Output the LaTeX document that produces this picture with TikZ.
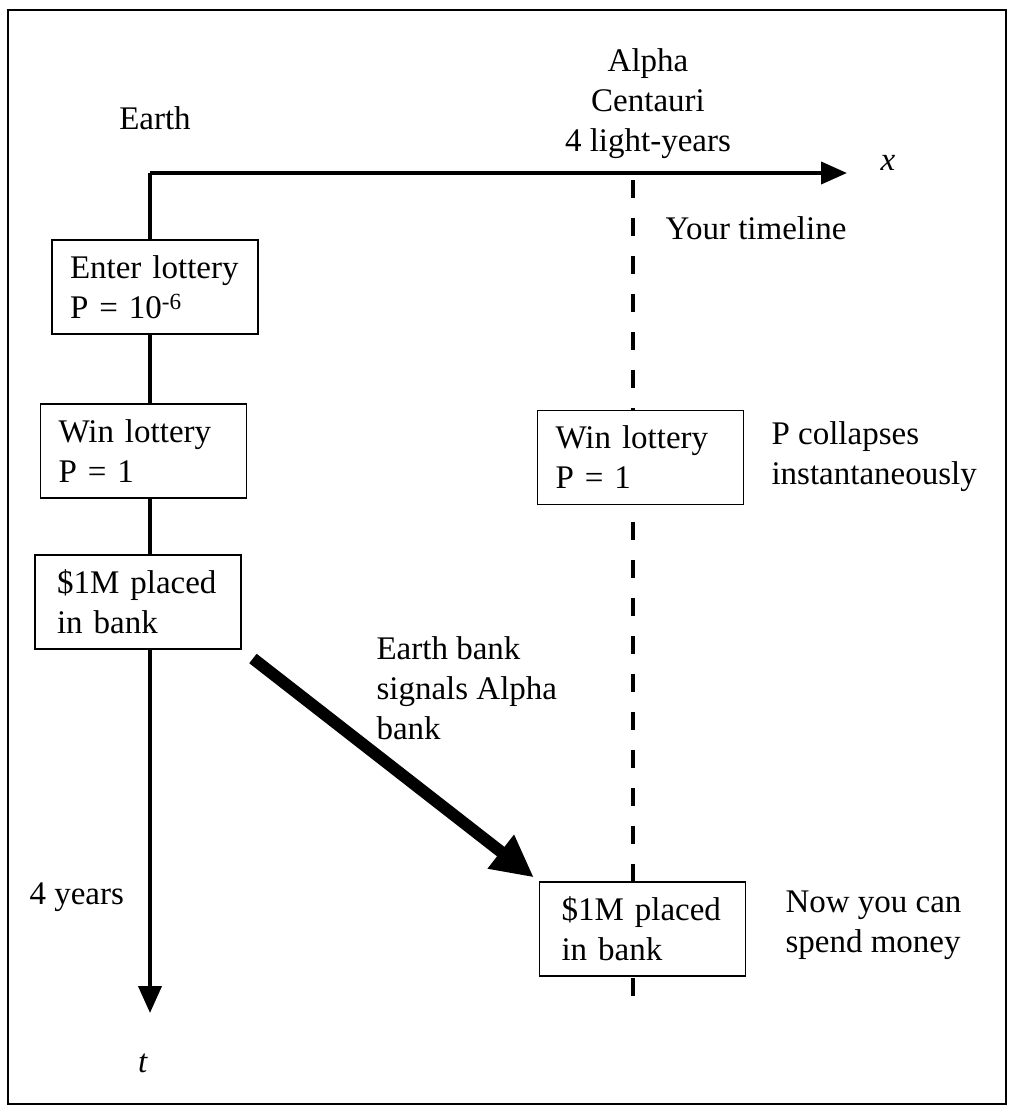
\documentclass[tikz,border=0pt]{standalone}
\usepackage{fontspec}
\setmainfont{Liberation Serif}
\usepackage{tikz}
\usetikzlibrary{arrows.meta}

\begin{document}
\begin{tikzpicture}[x=1pt,y=1pt,
  every node/.style={font=\fontsize{33}{40}\selectfont},
  event/.style={draw,line width=1.8pt,fill=white,align=left,
    minimum width=206pt,minimum height=94pt,text width=170pt},
  bank/.style={event,text width=162pt},
  axis/.style={line width=4pt},
  timeline/.style={line width=4pt,dash pattern=on 18pt off 20pt}]

\useasboundingbox (0,0) rectangle (1010,-1108);

% Outer frame
\draw[line width=2.5pt] (8,-10) rectangle (1006,-1104);

% Axes (Earth at the origin)
\coordinate (origin) at (150,-173);
\coordinate (xtip) at (847,-173);
\coordinate (ttip) at (150,-1013);
\draw[axis,-{Triangle[length=26pt,width=22pt]}] (origin) -- (xtip);
\draw[axis,-{Triangle[length=27pt,width=23pt]}] (origin) -- (ttip);
\node at (888,-163) {\textit{x}};
\node at (143,-1063) {\textit{t}};
\node at (155,-118) {Earth};
\node[anchor=west] at (26,-897) {4 years};

% Alpha Centauri timeline (dashed)
\coordinate (alphatop) at (633,-180);
\coordinate (alphabot) at (633,-998);
\draw[timeline] (alphatop) -- (alphabot);
\node[align=center] at (648,-104) {Alpha\\Centauri\\4 light-years};
\node[anchor=west] at (662,-228) {Your timeline};

% Events on Earth
\node[event] (enter) at (155,-287) {Enter lottery\\P = 10\textsuperscript{-6}};
\node[event] (winE) at (143.5,-451) {Win lottery\\P = 1};
\node[bank] (bankE) at (138,-602) {\$1M placed\\in bank};

% Events at Alpha Centauri
\node[event] (winA) at (640.5,-457.5) {Win lottery\\P = 1};
\node[bank] (bankA) at (642.5,-929) {\$1M placed\\in bank};
\node[anchor=west,align=left] at (768,-457) {P collapses\\instantaneously};
\node[anchor=west,align=left] at (782,-925) {Now you can\\spend money};

% Signal from Earth bank to Alpha bank
\draw[line width=12pt,-{Triangle[length=42pt,width=40pt]},
  shorten <=14pt,shorten >=6pt] (bankE.south east) -- (bankA.north west);
\node[anchor=west,align=left] at (373,-688) {Earth bank\\signals Alpha\\bank};

\end{tikzpicture}
\end{document}
